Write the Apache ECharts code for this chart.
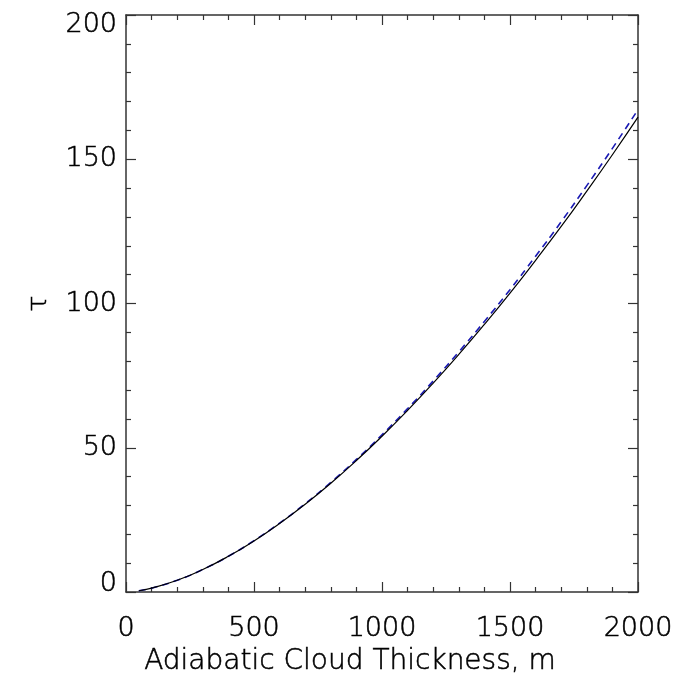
<!DOCTYPE html>
<html>
<head>
<meta charset="utf-8">
<script src="https://cdn.jsdelivr.net/npm/echarts@6/dist/echarts.min.js"></script>
<style>
  html, body { margin: 0; padding: 0; background: #fff; }
  #chart { width: 678px; height: 681px; }
</style>
</head>
<body>
<div id="chart"></div>
<script>
// Cloud thickness (m)
const thickness = [50, 100, 200, 300, 400, 500, 600, 700, 800, 900, 1000,
  1100, 1200, 1300, 1400, 1500, 1600, 1700, 1800, 1900, 2000];
// Optical depth, solid curve
const tauSolid = [0.44, 1.33, 4.06, 7.79, 12.37, 17.71, 23.75, 30.43, 37.71, 45.57, 54.0,
  62.95, 72.4, 82.33, 92.75, 103.6, 114.98, 126.7, 138.96, 151.57, 164.6];
// Optical depth, dashed curve
const tauDashed = [0.44, 1.33, 4.06, 7.79, 12.4, 17.8, 23.9, 30.6, 38.0, 45.95, 54.5,
  63.55, 73.15, 83.23, 93.8, 104.8, 116.38, 128.35, 140.86, 153.77, 167.2];

const xTicks = [0, 500, 1000, 1500, 2000];
const yTicks = [0, 50, 100, 150, 200];

// thin stroked lettering
const txt = (size) => ({
  fontFamily: 'DejaVu Sans', fontWeight: 200, fontSize: size, color: '#000',
  textBorderColor: '#000', textBorderWidth: 0.5
});
const frame = { show: true, onZero: false, lineStyle: { color: '#333', width: 1.5 } };
const majorTick = { show: true, inside: true, length: 10, lineStyle: { color: '#333', width: 1.2 } };
const minorTick = { show: true, splitNumber: 5, length: 5, lineStyle: { color: '#333', width: 1.2 } };

const pair = (xs, ys) => xs.map((x, i) => [x, ys[i]]);

const chart = echarts.init(document.getElementById('chart'), null, { renderer: 'canvas' });
chart.setOption({
  animation: false,
  backgroundColor: '#fff',
  grid: { left: 126, right: 40, top: 15, bottom: 89 },
  xAxis: [{
    type: 'value', min: xTicks[0], max: xTicks[xTicks.length - 1], interval: 500,
    position: 'bottom',
    name: 'Adiabatic Cloud Thickness, m', nameLocation: 'middle', nameGap: 46,
    nameTextStyle: Object.assign(txt(28), { padding: [0, 64, 0, 0] }),
    axisLine: frame, axisTick: majorTick, minorTick: minorTick,
    splitLine: { show: false },
    axisLabel: Object.assign(txt(27), { margin: 23, formatter: (v) => String(v) })
  }, {
    type: 'value', min: xTicks[0], max: xTicks[xTicks.length - 1], interval: 500,
    position: 'top',
    axisLine: frame, axisTick: majorTick, minorTick: minorTick,
    splitLine: { show: false }, axisLabel: { show: false }
  }],
  yAxis: [{
    type: 'value', min: yTicks[0], max: yTicks[yTicks.length - 1], interval: 50,
    position: 'left',
    name: 'τ', nameLocation: 'middle', nameGap: 74, nameRotate: 90,
    nameTextStyle: txt(27),
    axisLine: frame, axisTick: majorTick, minorTick: minorTick,
    splitLine: { show: false },
    axisLabel: Object.assign(txt(27), {
      margin: 9,
      formatter: (v) => v === yTicks[yTicks.length - 1] ? '{top|' + v + '}' : (v === yTicks[0] ? '{bot|' + v + '}' : String(v)),
      rich: {
        top: Object.assign(txt(27), { padding: [20, 0, 0, 0] }),
        bot: Object.assign(txt(27), { padding: [0, 0, 16, 0] })
      }
    })
  }, {
    type: 'value', min: yTicks[0], max: yTicks[yTicks.length - 1], interval: 50,
    position: 'right',
    axisLine: frame, axisTick: majorTick, minorTick: minorTick,
    splitLine: { show: false }, axisLabel: { show: false }
  }],
  series: [{
    type: 'line', name: 'solid', data: pair(thickness, tauSolid),
    smooth: true, showSymbol: false, clip: true,
    lineStyle: { color: '#000', width: 1.2 }, z: 3
  }, {
    type: 'line', name: 'dashed', data: pair(thickness, tauDashed),
    smooth: true, showSymbol: false, clip: true,
    lineStyle: { color: '#1a1ab4', width: 1.6, type: [7, 5] }, z: 2
  }]
});
</script>
</body>
</html>
